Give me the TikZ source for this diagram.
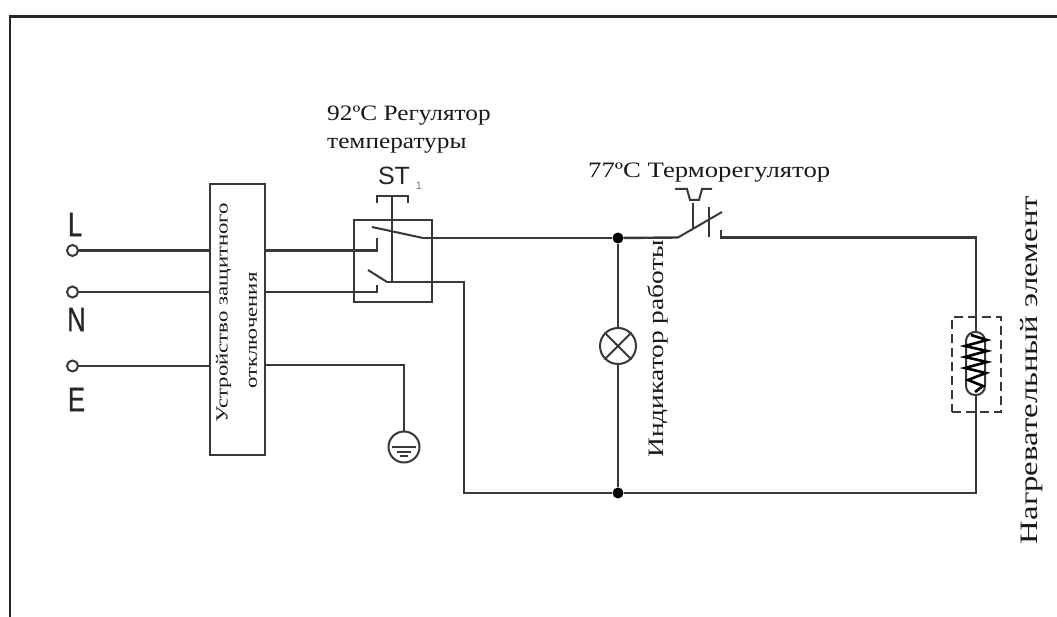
\documentclass[tikz,border=0pt]{standalone}
\usepackage{fontspec}
\setmainfont{Liberation Serif}
\newfontfamily\labelsans{Liberation Sans}
\newfontfamily\leadsans{Liberation Sans}[FakeStretch=0.75,FakeBold=0.8]
\newfontfamily\serifa{Liberation Serif}[FakeStretch=1.15]
\newfontfamily\serifb{Liberation Serif}[FakeStretch=1.215]
\newfontfamily\serifc{Liberation Serif}[FakeStretch=1.247]
\newfontfamily\serifd{Liberation Serif}[FakeStretch=1.31]
\newfontfamily\serife{Liberation Serif}[FakeStretch=1.34]
\usepackage{xcolor}
\usetikzlibrary{positioning}
\definecolor{wirecol}{gray}{0.22}
\tikzset{
    wire/.style={draw=wirecol, line width=2.4pt},
    thinwire/.style={draw=wirecol, line width=2pt},
    terminal/.style={circle, draw=wirecol, line width=2pt, fill=white, minimum size=11pt, inner sep=0pt},
    junction/.style={circle, fill=black, minimum size=11pt, inner sep=0pt},
    caption/.style={inner sep=0pt, align=left, text=black!90},
    sidecaption/.style={caption, rotate=90, align=center},
    lead/.style={inner sep=0pt, font=\leadsans\fontsize{34}{34}\selectfont, text=black!85}
}
\begin{document}
\begin{tikzpicture}[x=1pt, y=-1pt]
    \useasboundingbox (0,0) rectangle (1057,617);
    % Frame
    \coordinate (f1) at (10,617);
    \coordinate (f2) at (10,16.5);
    \coordinate (f3) at (1057,16.5);
    \draw[line width=2.6pt, black!85] (f1) -- (f2) -- (f3);

    % Terminals
    \node[terminal] (tL) at (72.5,250.5) {};
    \node[terminal] (tN) at (72.5,292) {};
    \node[terminal] (tE) at (72.5,366) {};
    \node[lead] (lL) at (75,224.5) {L};
    \node[lead] (lN) at (76.5,319.5) {N};
    \node[lead] (lE) at (76.5,399.5) {E};

    % Protection device
    \node[draw=wirecol, line width=2.4pt, minimum width=55pt, minimum height=271pt, inner sep=0pt] (rcd) at (237.5,319.5) {};
    \node[sidecaption, font=\serife\fontsize{17}{17}\selectfont] (rcdtexta) at (223.5,312.5) {Устройство защитного};
    \node[sidecaption, font=\serife\fontsize{17}{17}\selectfont] (rcdtextb) at (253,330.5) {отключения};

    % Switch ST1
    \node[draw=wirecol, line width=2pt, minimum width=78pt, minimum height=82pt, inner sep=0pt] (st) at (393,261) {};
    \node[caption, font=\serifa\fontsize{22}{28}\selectfont] (stcap) at (327,129.5) [anchor=west] {92ºC Регулятор\\температуры};
    \node[inner sep=0pt, font=\labelsans\fontsize{25}{25}\selectfont, text=black!85] (stname) at (394,176) {ST};
    \node[inner sep=0pt, font=\labelsans\fontsize{11}{11}\selectfont, text=gray] (stsub) at (419,186) {1};
    \coordinate (sa) at (377,250.5);
    \coordinate (sa1) at (377,238);
    \coordinate (sb) at (377,292);
    \coordinate (sb1) at (377,285);
    \coordinate (ua) at (372,227);
    \coordinate (ub) at (423,238);
    \coordinate (la) at (368,270);
    \coordinate (lb) at (387,282);
    \coordinate (act) at (392,282);
    \coordinate (acttop) at (392,196);
    \coordinate (capl) at (377,196);
    \coordinate (capr) at (408,196);
    \coordinate (capld) at (377,203);
    \coordinate (caprd) at (408,203);
    \draw[thinwire] (capld) -- (capl) -- (capr) -- (caprd);
    \draw[thinwire] (acttop) -- (act);
    \draw[thinwire] (ua) -- (ub);
    \draw[thinwire] (la) -- (lb);

    % Thermostat
    \node[caption, font=\serifb\fontsize{22}{28}\selectfont] (tscap) at (588,173) [anchor=west] {77ºC Терморегулятор};
    \coordinate (ta) at (678,237.5);
    \coordinate (tb) at (722,212);
    \coordinate (tc) at (721,230);
    \coordinate (td) at (721,237.5);
    \coordinate (v1a) at (693,203);
    \coordinate (v1b) at (693,229);
    \coordinate (v2a) at (709,207);
    \coordinate (v2b) at (709,237);
    \draw[thinwire] (ta) -- (tb);
    \draw[thinwire] (v1a) -- (v1b);
    \draw[thinwire] (v2a) -- (v2b);
    \draw[thinwire] (675,189) -- (687,189) -- (690,200) -- (699,200) -- (702,189) -- (712,189);

    % Junctions, lamp, ground
    \node[junction] (j1) at (618,238) {};
    \node[junction] (j2) at (618,493) {};
    \node[circle, draw=wirecol, line width=2pt, minimum size=36pt, inner sep=0pt] (lamp) at (618,346) {};
    \draw[thinwire] (lamp.north west) -- (lamp.south east);
    \draw[thinwire] (lamp.north east) -- (lamp.south west);
    \node[sidecaption, font=\serifc\fontsize{22}{22}\selectfont] (lamptext) at (658,349) {Индикатор работы};
    \node[circle, draw=wirecol, line width=2pt, minimum size=31pt, inner sep=0pt] (gnd) at (404,447) {};
    \coordinate (g1) at (404,365);
    \draw[line width=2.6pt, wirecol] (392,447) -- (416,447);
    \draw[line width=1.6pt, wirecol] (397,452) -- (411,452);
    \draw[line width=1.6pt, wirecol] (400,456) -- (408,456);

    % Heater
    \node[draw=wirecol, dash pattern=on 9pt off 5pt, line width=2pt, minimum width=49pt, minimum height=95pt, inner sep=0pt] (hbox) at (976.5,364.5) {};
    \node[draw=wirecol, line width=2pt, rounded corners=9pt, minimum width=19pt, minimum height=63pt, inner sep=0pt] (coil) at (975.5,363.5) {};
    \draw[line width=2.6pt, black] (971,335) -- (987,340) -- (965,346) -- (987,351) -- (965,357) -- (987,362) -- (965,368) -- (986,373) -- (968,380) -- (983,386) -- (975,392);
    \node[sidecaption, font=\serifd\fontsize{25}{25}\selectfont] (htext) at (1032,370) {Нагревательный элемент};

    % Edges
    \coordinate (n1) at (464,282);
    \coordinate (n2) at (464,493);
    \coordinate (n3) at (976,237.5);
    \coordinate (n4) at (976,493);
    \draw[wire] (tL) -- (tL -| rcd.west);
    \draw[wire] (tN) -- (tN -| rcd.west);
    \draw[wire] (tE) -- (tE -| rcd.west);
    \draw[wire] (rcd.east |- sa) -- (sa) -- (sa1);
    \draw[wire] (rcd.east |- sb) -- (sb) -- (sb1);
    \draw[wire] (ub) -- (j1);
    \draw[wire] (j1) -- (ta);
    \draw[wire] (lb) -- (n1) -- (n2) -- (j2);
    \draw[wire] (rcd.east |- g1) -- (g1) -- (gnd);
    \draw[wire] (j1) -- (lamp);
    \draw[wire] (lamp) -- (j2);
    \draw[wire] (tc) -- (td) -- (n3) -- (coil.north -| n3);
    \draw[wire] (coil.south -| n3) -- (n4) -- (j2);
\end{tikzpicture}
\end{document}
